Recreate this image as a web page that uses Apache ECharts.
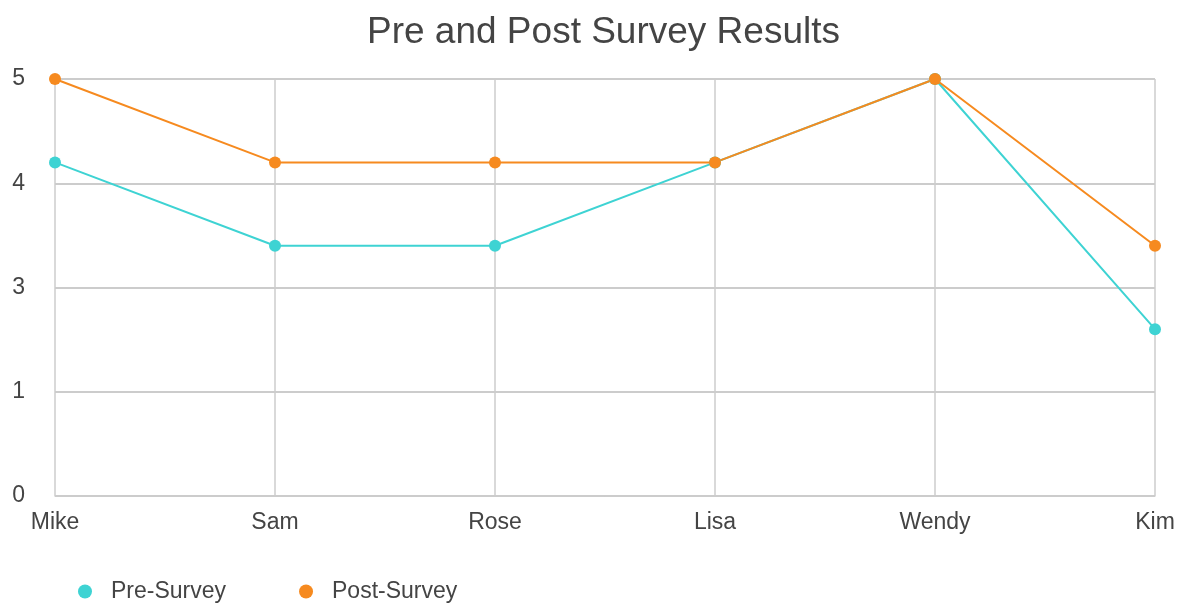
<!DOCTYPE html>
<html><head><meta charset="utf-8">
<script src="https://cdn.jsdelivr.net/npm/echarts@6/dist/echarts.min.js"></script>
<style>html,body{margin:0;padding:0;background:#fff}#c{width:1178px;height:603px}</style>
</head><body><div id="c"></div>
<script>
const categories = ["Mike","Sam","Rose","Lisa","Wendy","Kim"];
const preSurvey = [4,3,3,4,5,2];
const postSurvey = [5,4,4,4,5,3];
const chart = echarts.init(document.getElementById('c'));
const font = 'Liberation Sans, Arial, Helvetica, sans-serif';
chart.setOption({
  animation:false,
  title:{text:'Pre and Post Survey Results',left:362,top:9,textStyle:{fontFamily:font,fontSize:37,fontWeight:'normal',color:'#444'}},
  grid:{left:55,right:23,top:79,bottom:107},
  legend:{top:575,left:73,itemGap:73,icon:'circle',itemWidth:14,itemHeight:14,textStyle:{fontFamily:font,fontSize:23,color:'#444',padding:[0,0,0,14]},data:['Pre-Survey','Post-Survey']},
  xAxis:{type:'category',data:categories,boundaryGap:false,
    axisLine:{lineStyle:{color:'#ccc'}},axisTick:{show:false},
    axisLabel:{fontFamily:font,fontSize:23,color:'#444',margin:15},
    splitLine:{show:true,lineStyle:{color:'#ccc',width:1.5}}},
  yAxis:{type:'value',min:0,max:5,interval:1.25,
    axisLine:{show:false},axisTick:{show:false},
    axisLabel:{fontFamily:font,fontSize:23,color:'#444',margin:30,formatter:v=>String(Math.round(v))},
    splitLine:{lineStyle:{color:'#ccc',width:2}}},
  series:[
    {name:'Pre-Survey',type:'line',data:preSurvey,symbol:'circle',symbolSize:12,color:'#3ed3d3',lineStyle:{width:2}},
    {name:'Post-Survey',type:'line',data:postSurvey,symbol:'circle',symbolSize:12,color:'#f68a1f',lineStyle:{width:2}}
  ]
});
</script></body></html>
